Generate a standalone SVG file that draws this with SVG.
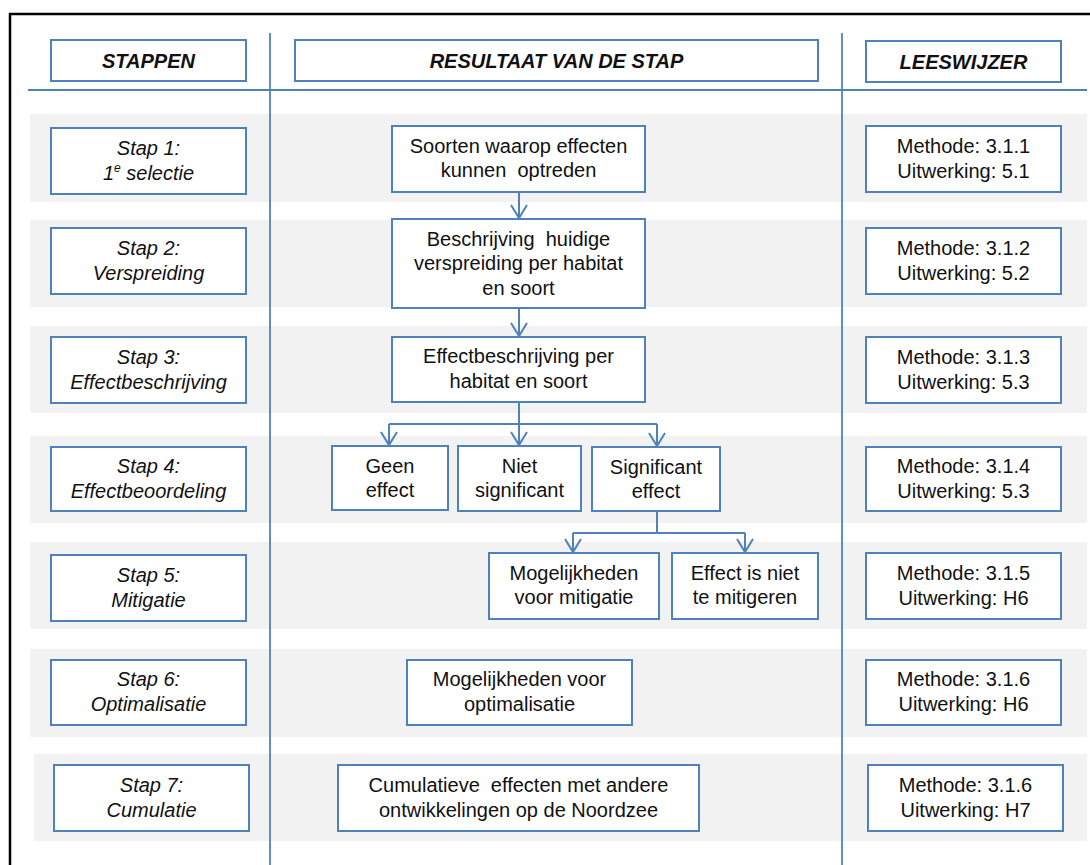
<svg xmlns="http://www.w3.org/2000/svg" width="1090" height="865" viewBox="0 0 1090 865">
<defs>
<style>
.band{fill:#F2F2F2;stroke:none}
.box{fill:#FFFFFF;stroke:#4F81BD;stroke-width:2}
.rule{stroke:#4F81BD;stroke-width:1.8;fill:none}
.conn{stroke:#4F81BD;stroke-width:2;fill:none}
text{font-family:"Liberation Sans",Arial,sans-serif;font-size:20px;fill:#111111;text-anchor:middle}
.hd{font-weight:bold;font-style:italic}
.st{font-style:italic}
</style>
<marker id="arr" markerUnits="userSpaceOnUse" markerWidth="20" markerHeight="20" refX="0" refY="0" viewBox="-15 -10 17 20" orient="auto" overflow="visible">
<path d="M -13 -8 L 0 0 L -13 8" fill="none" stroke="#4F81BD" stroke-width="2"/>
</marker>
</defs>
<rect x="0" y="0" width="1090" height="865" fill="#FFFFFF"/>
<g id="frame">
<path d="M 10 865 L 10 14 L 1090 14" fill="none" stroke="#000000" stroke-width="2.5"/>
</g>
<g id="bands">
<rect class="band" x="30" y="114" width="1057" height="88"/>
<rect class="band" x="30" y="220" width="1057" height="87"/>
<rect class="band" x="30" y="326" width="1057" height="87"/>
<rect class="band" x="30" y="436" width="1057" height="87"/>
<rect class="band" x="30" y="542" width="1057" height="87"/>
<rect class="band" x="30" y="649" width="1057" height="88"/>
<rect class="band" x="34" y="754" width="1053" height="87"/>
</g>
<g id="rules">
<line class="rule" x1="270" y1="33" x2="270" y2="865"/>
<line class="rule" x1="842" y1="33" x2="842" y2="865"/>
<line class="rule" x1="28" y1="90" x2="1087" y2="90"/>
</g>
<g id="connectors">
<line class="conn" x1="519" y1="192" x2="519" y2="218" marker-end="url(#arr)"/>
<line class="conn" x1="519" y1="308" x2="519" y2="336" marker-end="url(#arr)"/>
<path class="conn" d="M 519 402 L 519 424"/>
<path class="conn" d="M 389 424 L 657 424"/>
<line class="conn" x1="389" y1="424" x2="389" y2="445" marker-end="url(#arr)"/>
<line class="conn" x1="519" y1="424" x2="519" y2="445" marker-end="url(#arr)"/>
<line class="conn" x1="657" y1="424" x2="657" y2="446" marker-end="url(#arr)"/>
<path class="conn" d="M 657 511 L 657 533"/>
<path class="conn" d="M 573 533 L 745 533"/>
<line class="conn" x1="573" y1="533" x2="573" y2="552" marker-end="url(#arr)"/>
<line class="conn" x1="745" y1="533" x2="745" y2="552" marker-end="url(#arr)"/>
</g>
<g id="hdr-stappen"><rect class="box" x="51" y="40" width="195" height="41"/><text class="hd" x="148.5" y="68">STAPPEN</text></g>
<g id="hdr-resultaat"><rect class="box" x="295" y="40" width="523" height="41"/><text class="hd" x="556.5" y="68">RESULTAAT VAN DE STAP</text></g>
<g id="hdr-leeswijzer"><rect class="box" x="866" y="41" width="195" height="41"/><text class="hd" x="963.5" y="69">LEESWIJZER</text></g>

<g id="stap1"><rect class="box" x="51" y="128" width="195" height="66"/><text class="st" x="148.5" y="155">Stap 1:</text><text class="st" x="148.5" y="180">1<tspan font-size="12" dy="-8">e</tspan><tspan dy="8"> selectie</tspan></text></g>
<g id="stap2"><rect class="box" x="51" y="228" width="195" height="66"/><text class="st" x="148.5" y="255">Stap 2:</text><text class="st" x="148.5" y="280">Verspreiding</text></g>
<g id="stap3"><rect class="box" x="51" y="337" width="195" height="66"/><text class="st" x="148.5" y="364">Stap 3:</text><text class="st" x="148.5" y="389">Effectbeschrijving</text></g>
<g id="stap4"><rect class="box" x="51" y="447" width="195" height="64"/><text class="st" x="148.5" y="473">Stap 4:</text><text class="st" x="148.5" y="498">Effectbeoordeling</text></g>
<g id="stap5"><rect class="box" x="51" y="555" width="195" height="66"/><text class="st" x="148.5" y="582">Stap 5:</text><text class="st" x="148.5" y="607">Mitigatie</text></g>
<g id="stap6"><rect class="box" x="51" y="660" width="195" height="65"/><text class="st" x="148.5" y="686">Stap 6:</text><text class="st" x="148.5" y="711">Optimalisatie</text></g>
<g id="stap7"><rect class="box" x="54" y="765" width="195" height="66"/><text class="st" x="151.5" y="792">Stap 7:</text><text class="st" x="151.5" y="817">Cumulatie</text></g>

<g id="res1"><rect class="box" x="392" y="126" width="253" height="66"/><text x="518.5" y="153">Soorten waarop effecten</text><text x="518.5" y="177">kunnen&#160; optreden</text></g>
<g id="res2"><rect class="box" x="392" y="219" width="253" height="89"/><text x="518.5" y="246">Beschrijving&#160; huidige</text><text x="518.5" y="270">verspreiding per habitat</text><text x="518.5" y="295">en soort</text></g>
<g id="res3"><rect class="box" x="392" y="337" width="253" height="65"/><text x="518.5" y="363">Effectbeschrijving per</text><text x="518.5" y="388">habitat en soort</text></g>
<g id="geen"><rect class="box" x="332" y="446" width="116" height="64"/><text x="390" y="473">Geen</text><text x="390" y="497">effect</text></g>
<g id="niet"><rect class="box" x="458" y="446" width="123" height="65"/><text x="519.5" y="473">Niet</text><text x="519.5" y="497">significant</text></g>
<g id="sig"><rect class="box" x="592" y="447" width="128" height="64"/><text x="656" y="474">Significant</text><text x="656" y="498">effect</text></g>
<g id="mog"><rect class="box" x="489" y="553" width="170" height="66"/><text x="574" y="580">Mogelijkheden</text><text x="574" y="604">voor mitigatie</text></g>
<g id="eff"><rect class="box" x="672" y="553" width="146" height="66"/><text x="745" y="580">Effect is niet</text><text x="745" y="604">te mitigeren</text></g>
<g id="opt"><rect class="box" x="407" y="660" width="225" height="65"/><text x="519.5" y="686">Mogelijkheden voor</text><text x="519.5" y="711">optimalisatie</text></g>
<g id="cum"><rect class="box" x="338" y="765" width="361" height="66"/><text x="518.5" y="792">Cumulatieve&#160; effecten met andere</text><text x="518.5" y="817">ontwikkelingen op de Noordzee</text></g>

<g id="lees1"><rect class="box" x="866" y="126" width="195" height="66"/><text x="963.5" y="153">Methode: 3.1.1</text><text x="963.5" y="178">Uitwerking: 5.1</text></g>
<g id="lees2"><rect class="box" x="866" y="228" width="195" height="66"/><text x="963.5" y="255">Methode: 3.1.2</text><text x="963.5" y="280">Uitwerking: 5.2</text></g>
<g id="lees3"><rect class="box" x="866" y="337" width="195" height="66"/><text x="963.5" y="364">Methode: 3.1.3</text><text x="963.5" y="389">Uitwerking: 5.3</text></g>
<g id="lees4"><rect class="box" x="866" y="447" width="195" height="64"/><text x="963.5" y="473">Methode: 3.1.4</text><text x="963.5" y="498">Uitwerking: 5.3</text></g>
<g id="lees5"><rect class="box" x="866" y="553" width="195" height="66"/><text x="963.5" y="580">Methode: 3.1.5</text><text x="963.5" y="605">Uitwerking: H6</text></g>
<g id="lees6"><rect class="box" x="866" y="660" width="195" height="65"/><text x="963.5" y="686">Methode: 3.1.6</text><text x="963.5" y="711">Uitwerking: H6</text></g>
<g id="lees7"><rect class="box" x="868" y="765" width="195" height="66"/><text x="965.5" y="792">Methode: 3.1.6</text><text x="965.5" y="817">Uitwerking: H7</text></g>
</svg>
